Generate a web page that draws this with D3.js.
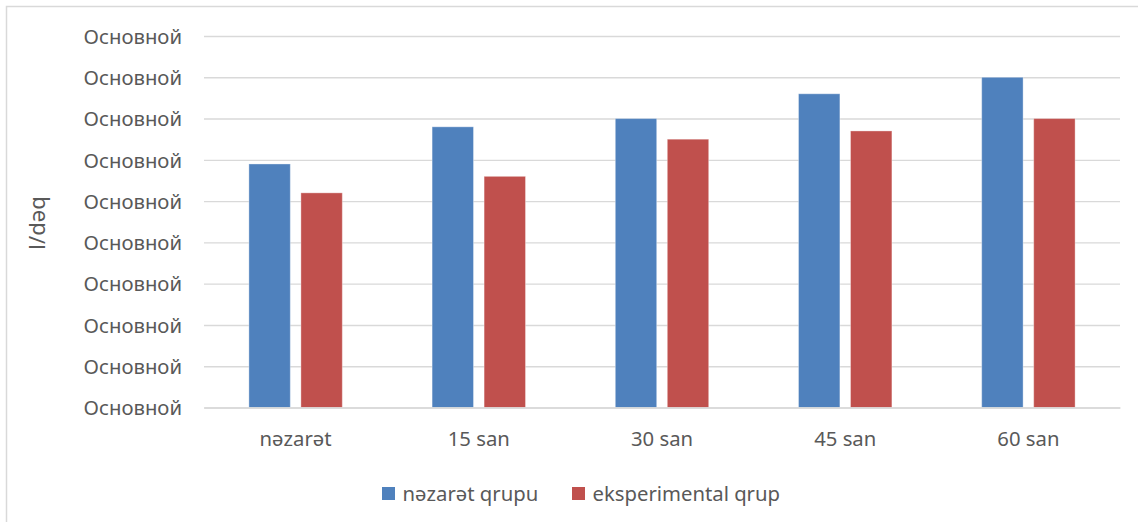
<!DOCTYPE html>
<html>
<head>
<meta charset="utf-8">
<script src="https://cdn.jsdelivr.net/npm/d3@7"></script>
<style>
  html, body { margin: 0; padding: 0; background: #fff; }
  svg { display: block; font-family: "Noto Sans", "Open Sans", sans-serif; }
</style>
</head>
<body>
<svg id="chart" width="1138" height="522"></svg>
<script>
// Categories along the x axis
const categories = ["nəzarət", "15 san", "30 san", "45 san", "60 san"];
// Series names (legend)
const seriesNames = ["nəzarət qrupu", "eksperimental qrup"];
// Series values, l/dəq
const controlValues = [5.9, 6.8, 7.0, 7.6, 8.0];
const experimentalValues = [5.2, 5.6, 6.5, 6.7, 7.0];
// Y axis ticks and the label each one carries
const yTicks = [0, 1, 2, 3, 4, 5, 6, 7, 8, 9];
const yTickLabel = "Основной";
const yTitle = "l/dəq";

const colors = ["#4F81BD", "#C0504D"];
const textColor = "#595959";
const gridColor = "#D9D9D9";
const fontFamily = "'Noto Sans', 'Open Sans', sans-serif";

const svg = d3.select("#chart");

// Chart frame
svg.append("rect")
  .attr("x", 6.5).attr("y", 6.5)
  .attr("width", 1160).attr("height", 540)
  .attr("fill", "#fff")
  .attr("stroke", gridColor)
  .attr("stroke-width", 1.5);

const plot = { left: 204, right: 1120, top: 36, bottom: 407.5 };

const y = d3.scaleLinear()
  .domain([0, 9])
  .range([plot.bottom, plot.top]);

const x = d3.scaleBand()
  .domain(categories)
  .range([plot.left, plot.right])
  .paddingInner(0)
  .paddingOuter(0);

const xSeries = d3.scaleBand()
  .domain(seriesNames)
  .range([-46.7, 46.7])
  .paddingInner(0.204);

// Gridlines + y labels
const yAxis = d3.axisLeft(y)
  .tickValues(yTicks)
  .tickSize(-(plot.right - plot.left))
  .tickPadding(22)
  .tickFormat(() => yTickLabel);

const gy = svg.append("g")
  .attr("transform", `translate(${plot.left},0)`)
  .call(yAxis)
  .attr("font-family", fontFamily);
gy.select(".domain").remove();
gy.selectAll(".tick line")
  .attr("stroke", gridColor)
  .attr("stroke-width", 1.4);
gy.selectAll(".tick text")
  .attr("fill", textColor)
  .attr("font-size", "20.3px")
  .attr("dy", "0.36em");

// Bars
const table = categories.map((c, i) => ({
  category: c,
  values: [controlValues[i], experimentalValues[i]]
}));

const groups = svg.append("g").selectAll("g")
  .data(table)
  .join("g")
  .attr("transform", d => `translate(${x(d.category) + x.bandwidth() / 2},0)`);

groups.selectAll("rect")
  .data(d => d.values.map((v, k) => ({ name: seriesNames[k], value: v, k })))
  .join("rect")
  .attr("x", d => xSeries(d.name))
  .attr("width", xSeries.bandwidth())
  .attr("y", d => y(d.value))
  .attr("height", d => y(0) - y(d.value))
  .attr("fill", d => colors[d.k])
  .attr("stroke", "rgba(255,255,255,0.35)")
  .attr("stroke-width", 1);

// X axis baseline and category labels
const xAxis = d3.axisBottom(x).tickSize(0).tickPadding(24);
const gx = svg.append("g")
  .attr("transform", `translate(0,${plot.bottom})`)
  .call(xAxis)
  .attr("font-family", fontFamily);
gx.select(".domain")
  .attr("stroke", gridColor)
  .attr("stroke-width", 1.4);
gx.selectAll(".tick text")
  .attr("fill", textColor)
  .attr("font-size", "20.3px");

// Y axis title
svg.append("text")
  .attr("transform", "translate(36,223) rotate(-90)")
  .attr("text-anchor", "middle")
  .attr("dominant-baseline", "central")
  .attr("fill", textColor)
  .attr("font-family", fontFamily)
  .attr("font-size", "22px")
  .text(yTitle);

// Legend
const legendItems = [
  { name: seriesNames[0], color: colors[0], x: 382 },
  { name: seriesNames[1], color: colors[1], x: 572 }
];
const legend = svg.append("g").attr("font-family", fontFamily);
legendItems.forEach(it => {
  legend.append("rect")
    .attr("x", it.x).attr("y", 487)
    .attr("width", 13).attr("height", 13)
    .attr("fill", it.color);
  legend.append("text")
    .attr("x", it.x + 20.5)
    .attr("y", 501)
    .attr("fill", textColor)
    .attr("font-size", "20.3px")
    .text(it.name);
});
</script>
</body>
</html>
